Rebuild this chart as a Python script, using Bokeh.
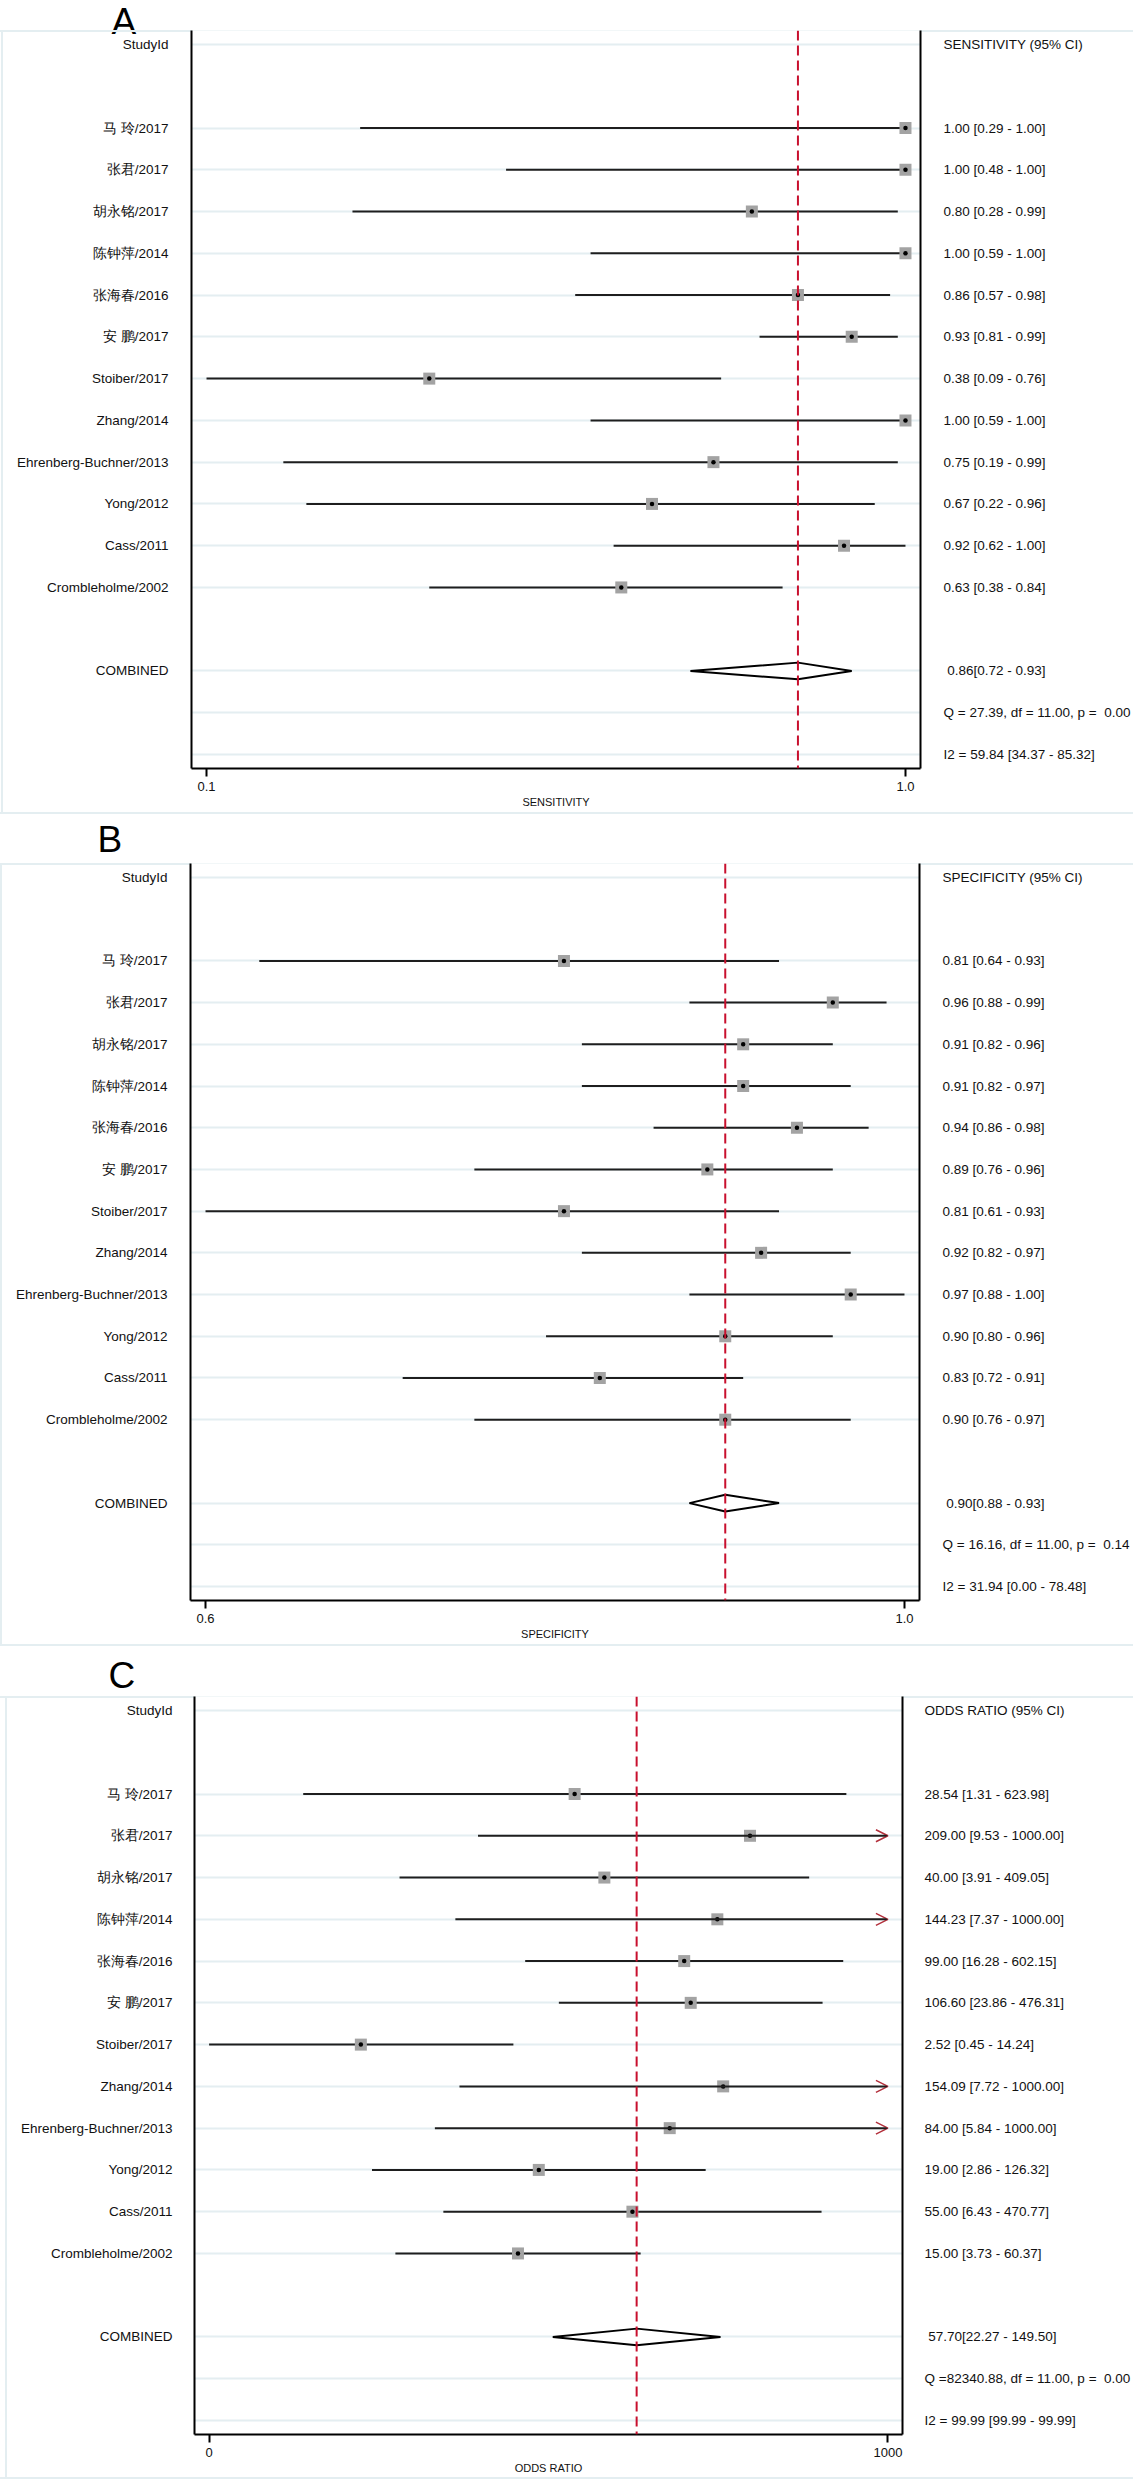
import math
from bokeh.plotting import figure
from bokeh.models import (Range1d, LinearAxis, FixedTicker, Span, ColumnDataSource, Arrow,
                          OpenHead)
from bokeh.layouts import column
from bokeh.embed import file_html
from bokeh.resources import INLINE

# ---------------- data ----------------
studies = ["马 玲/2017", "张君/2017", "胡永铭/2017", "陈钟萍/2014", "张海春/2016", "安 鹏/2017",
           "Stoiber/2017", "Zhang/2014", "Ehrenberg-Buchner/2013", "Yong/2012", "Cass/2011",
           "Crombleholme/2002"]

sens_est = [1.00, 1.00, 0.80, 1.00, 0.86, 0.93, 0.38, 1.00, 0.75, 0.67, 0.92, 0.63]
sens_lo = [0.29, 0.48, 0.28, 0.59, 0.57, 0.81, 0.09, 0.59, 0.19, 0.22, 0.62, 0.38]
sens_hi = [1.00, 1.00, 0.99, 1.00, 0.98, 0.99, 0.76, 1.00, 0.99, 0.96, 1.00, 0.84]
sens_comb = [0.86, 0.72, 0.93]
sens_header = "SENSITIVITY (95% CI)"
sens_q = "Q = 27.39, df = 11.00, p =\u00a0 0.00"
sens_i2 = "I2 = 59.84 [34.37 - 85.32]"

spec_est = [0.81, 0.96, 0.91, 0.91, 0.94, 0.89, 0.81, 0.92, 0.97, 0.90, 0.83, 0.90]
spec_lo = [0.64, 0.88, 0.82, 0.82, 0.86, 0.76, 0.61, 0.82, 0.88, 0.80, 0.72, 0.76]
spec_hi = [0.93, 0.99, 0.96, 0.97, 0.98, 0.96, 0.93, 0.97, 1.00, 0.96, 0.91, 0.97]
spec_comb = [0.90, 0.88, 0.93]
spec_header = "SPECIFICITY (95% CI)"
spec_q = "Q = 16.16, df = 11.00, p =\u00a0 0.14"
spec_i2 = "I2 = 31.94 [0.00 - 78.48]"

or_est = [28.54, 209.00, 40.00, 144.23, 99.00, 106.60, 2.52, 154.09, 84.00, 19.00, 55.00, 15.00]
or_lo = [1.31, 9.53, 3.91, 7.37, 16.28, 23.86, 0.45, 7.72, 5.84, 2.86, 6.43, 3.73]
or_hi = [623.98, 1000.00, 409.05, 1000.00, 602.15, 476.31, 14.24, 1000.00, 1000.00, 126.32,
         470.77, 60.37]
or_comb = [57.70, 22.27, 149.50]
or_cap = 1000.0
or_header = "ODDS RATIO (95% CI)"
or_q = "Q =82340.88, df = 11.00, p =\u00a0 0.00"
or_i2 = "I2 = 99.99 [99.99 - 99.99]"

panel_letters = ["A", "B", "C"]

# ---------------- style ----------------
FONT = "Liberation Sans"
TXT = "#111111"
GRID = "#e4eef1"
BORDER = "#e4eef1"
RED = "#c8102e"
W = 1133


def no_align(p):
    if "frame_align" in p.properties():
        p.frame_align = False


def letter_fig(letter, h, x, yc, overlap=0):
    p = figure(width=W, height=h, x_range=Range1d(0, W), y_range=Range1d(h, 0),
               x_axis_location=None, y_axis_location=None,
               output_backend="svg", toolbar_location=None,
               min_border=0, min_border_left=0, min_border_right=0,
               min_border_top=0, min_border_bottom=0)
    p.outline_line_color = None
    p.grid.visible = False
    p.background_fill_color = None
    p.border_fill_color = None
    p.text(x=[x], y=[yc], text=[letter], text_font_size="37px",
           text_font={"value": FONT}, text_color="black",
           text_align="left", text_baseline="middle")
    no_align(p)
    if overlap:
        p.margin = (0, 0, -overlap, 0)
    return p


def make_panel(est, lo, hi, comb, header, q, i2, axis_label, log, dec, cap,
               fig_h, fl, fw, fh, lstand, rstand, border_x):
    n = len(est)
    rows = list(range(2, 2 + n))
    comb_row = n + 3
    q_row = n + 4
    i2_row = n + 5
    top_row = -0.335
    bot_row = i2_row + 0.335

    tlo, thi = min(lo), max(hi)
    if log:
        a, b = math.log10(tlo), math.log10(thi)
    else:
        a, b = tlo, thi
    pad = 0.0215 * (b - a)
    s, e = a - pad, b + pad
    xs, xe = (10 ** s, 10 ** e) if log else (s, e)

    p = figure(width=W, height=fig_h,
               x_range=Range1d(xs, xe), y_range=Range1d(bot_row, top_row),
               x_axis_type="log" if log else "linear",
               output_backend="svg", toolbar_location=None,
               min_border_left=fl, min_border_right=W - fl - fw,
               min_border_top=0, min_border_bottom=fig_h - fh)
    no_align(p)
    p.outline_line_color = None
    p.background_fill_color = "white"
    p.border_fill_color = None
    p.styles = {
        "box-shadow": f"inset 0 2px 0 0 {BORDER}, inset 0 -2px 0 0 {BORDER}",
        "background-image": f"linear-gradient({BORDER}, {BORDER})",
        "background-repeat": "no-repeat",
        "background-position": f"{border_x}px 0px",
        "background-size": "2px 100%",
    }

    yticks = [0] + rows + [comb_row, q_row, i2_row]
    yt = FixedTicker(ticks=yticks)

    # left axis: study names
    ylabels = {0: "StudyId", comb_row: "COMBINED", q_row: "", i2_row: ""}
    for r, sname in zip(rows, studies):
        ylabels[r] = sname
    yax = p.yaxis[0]
    yax.ticker = yt
    yax.major_label_overrides = ylabels
    yax.major_tick_line_color = None
    yax.minor_tick_line_color = None
    yax.major_tick_out = 0
    yax.major_tick_in = 0
    yax.major_label_standoff = lstand
    yax.axis_line_color = "black"
    yax.axis_line_width = 2
    yax.major_label_text_font = FONT
    yax.major_label_text_font_size = "13.5px"
    yax.major_label_text_color = TXT

    # right axis: estimates with CI text
    c_est, c_lo, c_hi = comb
    rtext = [header] + [f"{est[i]:.2f} [{lo[i]:.2f} - {hi[i]:.2f}]" for i in range(n)] + \
            [f"\u00a0{c_est:.2f}[{c_lo:.2f} - {c_hi:.2f}]", q, i2]
    rax = LinearAxis(ticker=yt, major_label_overrides=dict(zip(yticks, rtext)),
                     axis_line_color="black", axis_line_width=2,
                     major_tick_line_color=None, minor_tick_line_color=None,
                     major_tick_out=0, major_tick_in=0, major_label_standoff=rstand,
                     major_label_text_font=FONT, major_label_text_font_size="13.5px",
                     major_label_text_color=TXT)
    p.add_layout(rax, "right")

    p.ygrid.ticker = yt
    p.ygrid.grid_line_color = GRID
    p.ygrid.grid_line_width = 2
    p.xgrid.visible = False

    # x axis
    xax = p.xaxis[0]
    xax.ticker = FixedTicker(ticks=[tlo, thi])
    xax.major_label_overrides = {tlo: f"{tlo:.{dec}f}", thi: f"{thi:.{dec}f}"}
    xax.minor_tick_line_color = None
    xax.major_tick_out = 8
    xax.major_tick_in = 0
    xax.major_tick_line_width = 2
    xax.major_tick_line_color = "black"
    xax.axis_line_color = "black"
    xax.axis_line_width = 2
    xax.major_label_standoff = 5
    xax.major_label_text_font = FONT
    xax.major_label_text_font_size = "13px"
    xax.major_label_text_color = TXT
    xax.axis_label = axis_label
    xax.axis_label_text_font = FONT
    xax.axis_label_text_font_size = "11px"
    xax.axis_label_text_font_style = "normal"
    xax.axis_label_text_color = TXT
    xax.axis_label_standoff = 2

    # CI lines
    full = [i for i in range(n) if not (cap is not None and hi[i] >= cap)]
    trunc = [i for i in range(n) if cap is not None and hi[i] >= cap]
    p.segment(x0=[lo[i] for i in full], y0=[rows[i] for i in full],
              x1=[hi[i] for i in full], y1=[rows[i] for i in full],
              line_color="#1e1e1e", line_width=2)
    if trunc:
        asrc = ColumnDataSource(dict(x0=[lo[i] for i in trunc], x1=[hi[i] for i in trunc],
                                     y=[rows[i] for i in trunc]))
        p.add_layout(Arrow(x_start="x0", y_start="y", x_end="x1", y_end="y", source=asrc,
                           line_color="#1e1e1e", line_width=2,
                           end=OpenHead(size=12, line_color="#b3303c", line_width=1.5),
                           level="glyph"))

    # estimate markers
    p.scatter(x=est, y=rows, marker="square", size=12, fill_color="#a3a3a3", line_color=None)
    p.scatter(x=est, y=rows, marker="circle", size=4.5, fill_color="black", line_color=None)

    # pooled diamond
    h = 0.2
    p.patch(x=[c_lo, c_est, c_hi, c_est], y=[comb_row, comb_row - h, comb_row, comb_row + h],
            fill_color="white", line_color="black", line_width=2)

    # pooled estimate reference line
    p.add_layout(Span(location=c_est, dimension="height", line_color=RED, line_width=2,
                      line_dash="10 5"))
    return p


lA = letter_fig(panel_letters[0], 42, 111, 20.8, overlap=12)
pA = make_panel(sens_est, sens_lo, sens_hi, sens_comb, sens_header, sens_q, sens_i2,
                "SENSITIVITY", False, 1, None,
                fig_h=784, fl=191, fw=729, fh=738, lstand=23, rstand=23, border_x=1)
lB = letter_fig(panel_letters[1], 49, 97, 24.5)
pB = make_panel(spec_est, spec_lo, spec_hi, spec_comb, spec_header, spec_q, spec_i2,
                "SPECIFICITY", False, 1, None,
                fig_h=783, fl=190, fw=729, fh=737, lstand=23, rstand=23, border_x=0)
lC = letter_fig(panel_letters[2], 50, 108, 29.2)
pC = make_panel(or_est, or_lo, or_hi, or_comb, or_header, or_q, or_i2,
                "ODDS RATIO", True, 0, or_cap,
                fig_h=783, fl=194, fw=709, fh=738, lstand=22, rstand=22, border_x=5)

layout = column(lA, pA, lB, pB, lC, pC, spacing=0)
open("out.html", "w").write(file_html(layout, INLINE))
